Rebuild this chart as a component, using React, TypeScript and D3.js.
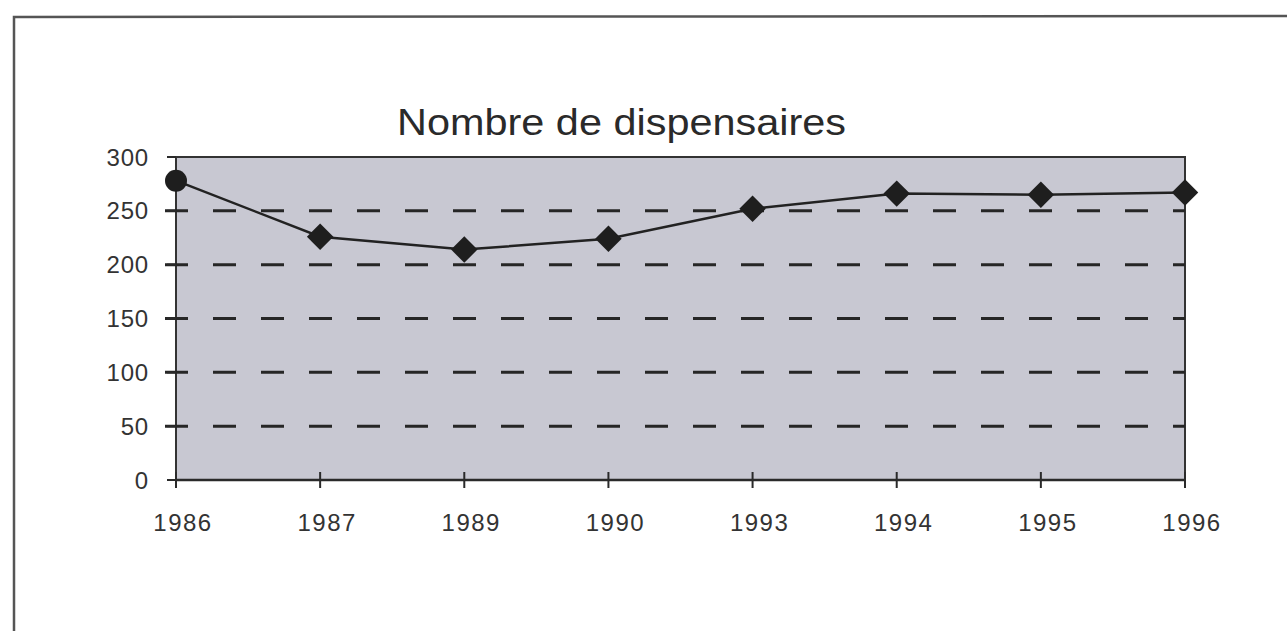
import React from "react";
import * as d3 from "d3";

const years = ["1986", "1987", "1989", "1990", "1993", "1994", "1995", "1996"];
const counts = [278, 226, 214, 224, 252, 266, 265, 267];
const yTicks = [0, 50, 100, 150, 200, 250, 300];
const gridValues = [50, 100, 150, 200, 250];
const title = "Nombre de dispensaires";

const W = 1287;
const H = 631;
const plot = { left: 176, right: 1185, top: 157, bottom: 480 };

export default function App() {
  const x = d3.scalePoint<string>().domain(years).range([plot.left, plot.right]);
  const y = d3.scaleLinear().domain([0, 300]).range([plot.bottom, plot.top]);
  const line = d3
    .line<number>()
    .x((_, i) => x(years[i]) as number)
    .y((d) => y(d));
  const diamond = d3.symbol().type(d3.symbolSquare).size(350)();
  const font = "'Liberation Sans', Arial, Helvetica, sans-serif";

  return (
    <svg
      width={W}
      height={H}
      style={{ position: "absolute", left: 0, top: 0, background: "#fff" }}
    >
      {/* outer frame */}
      <path d={`M14,${H} L14,17 L${W},16`} fill="none" stroke="#555" strokeWidth={2.5} />

      <text
        x={397}
        y={135}
        textLength={449}
        lengthAdjust="spacingAndGlyphs"
        fontFamily={font}
        fontSize={37}
        fill="#2a2a2a"
      >
        {title}
      </text>

      {/* plot area */}
      <rect
        x={plot.left}
        y={plot.top}
        width={plot.right - plot.left}
        height={plot.bottom - plot.top}
        fill="#c8c8d2"
        stroke="#333"
        strokeWidth={2}
      />

      {/* gridlines */}
      {gridValues.map((v) => (
        <line
          key={v}
          x1={165}
          x2={plot.right}
          y1={y(v)}
          y2={y(v)}
          stroke="#262626"
          strokeWidth={3}
          strokeDasharray="23 25"
        />
      ))}

      {/* y ticks and labels */}
      {yTicks.map((v) => (
        <g key={v}>
          <line x1={167} x2={plot.left} y1={y(v)} y2={y(v)} stroke="#2a2a2a" strokeWidth={2} />
          <text
            x={149}
            y={y(v)}
            dy="0.36em"
            textAnchor="end"
            fontFamily={font}
            fontSize={24}
            letterSpacing={0.8}
            fill="#333"
          >
            {v}
          </text>
        </g>
      ))}

      {/* x axis */}
      <line x1={plot.left} x2={plot.right} y1={plot.bottom} y2={plot.bottom} stroke="#2a2a2a" strokeWidth={2.5} />
      {years.map((yr) => (
        <g key={yr}>
          <line
            x1={x(yr)}
            x2={x(yr)}
            y1={plot.bottom - 8}
            y2={plot.bottom + 8}
            stroke="#2a2a2a"
            strokeWidth={2}
          />
          <text
            x={(x(yr) as number) + 7}
            y={531}
            textAnchor="middle"
            fontFamily={font}
            fontSize={24}
            letterSpacing={1.5}
            fill="#333"
          >
            {yr}
          </text>
        </g>
      ))}

      {/* data line */}
      <path d={line(counts) as string} fill="none" stroke="#222" strokeWidth={2.5} />

      {counts.map((v, i) =>
        i === 0 ? (
          <circle key={i} cx={x(years[i])} cy={y(v)} r={11} fill="#1e1e1e" />
        ) : (
          <path
            key={i}
            d={diamond as string}
            transform={`translate(${x(years[i])},${y(v)}) rotate(45)`}
            fill="#1e1e1e"
          />
        )
      )}
    </svg>
  );
}
